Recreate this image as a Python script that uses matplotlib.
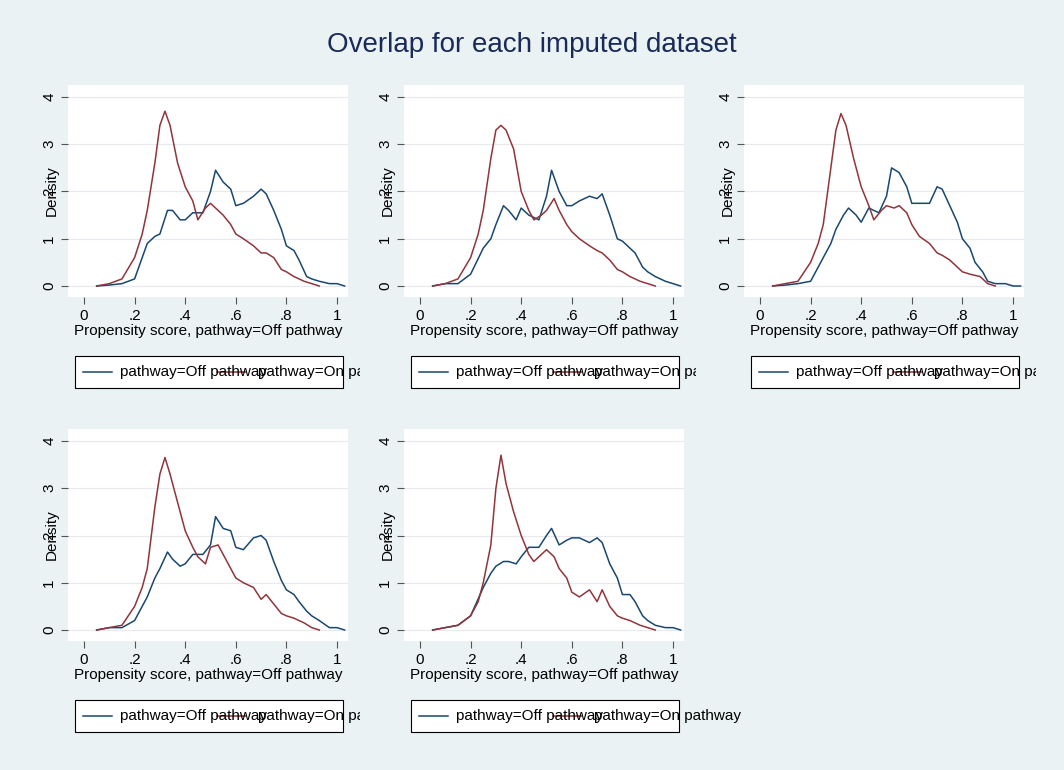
import numpy as np
import matplotlib.pyplot as plt
from matplotlib.patches import Rectangle

plt.rcParams['font.family'] = ['Liberation Sans', 'DejaVu Sans']

# density curves, one pair per imputed dataset
off_x = [0.05, 0.1, 0.15, 0.2, 0.25, 0.28, 0.3, 0.33, 0.35, 0.38, 0.4, 0.43, 0.47, 0.5, 0.52,
         0.55, 0.58, 0.6, 0.63, 0.67, 0.7, 0.72, 0.75, 0.78, 0.8, 0.83, 0.85, 0.88, 0.9, 0.93,
         0.97, 1.0, 1.03]
off_y = [
    [0, .02, .05, .15, .9, 1.05, 1.1, 1.6, 1.6, 1.4, 1.4, 1.55, 1.55, 2.0, 2.45, 2.2, 2.05, 1.7,
     1.75, 1.9, 2.05, 1.95, 1.6, 1.2, .85, .75, .55, .2, .15, .1, .05, .05, 0],
    [0, .05, .05, .25, .8, 1.0, 1.3, 1.7, 1.6, 1.4, 1.65, 1.5, 1.4, 1.9, 2.45, 2.0, 1.7, 1.7,
     1.8, 1.9, 1.85, 1.95, 1.5, 1.0, .95, .8, .7, .4, .3, .2, .1, .05, 0],
    [0, .02, .05, .1, .6, .9, 1.2, 1.5, 1.65, 1.5, 1.35, 1.65, 1.55, 1.9, 2.5, 2.4, 2.1, 1.75,
     1.75, 1.75, 2.1, 2.05, 1.7, 1.35, 1.0, .8, .5, .3, .1, .05, .05, 0, 0],
    [0, .05, .05, .2, .7, 1.1, 1.3, 1.65, 1.5, 1.35, 1.4, 1.6, 1.6, 1.8, 2.4, 2.15, 2.1, 1.75,
     1.7, 1.95, 2.0, 1.9, 1.45, 1.05, .85, .75, .6, .4, .3, .2, .05, .05, 0],
    [0, .05, .1, .3, .9, 1.2, 1.35, 1.45, 1.45, 1.4, 1.55, 1.75, 1.75, 2.0, 2.15, 1.8, 1.9, 1.95,
     1.95, 1.85, 1.95, 1.85, 1.4, 1.1, .75, .75, .6, .3, .2, .1, .05, .05, 0],
]
on_x = [0.05, 0.1, 0.15, 0.2, 0.23, 0.25, 0.28, 0.3, 0.32, 0.34, 0.37, 0.4, 0.43, 0.45, 0.48,
        0.5, 0.53, 0.55, 0.58, 0.6, 0.63, 0.67, 0.7, 0.72, 0.75, 0.78, 0.8, 0.83, 0.87, 0.9, 0.93]
on_y = [
    [0, .05, .15, .6, 1.1, 1.6, 2.6, 3.4, 3.7, 3.4, 2.6, 2.1, 1.8, 1.4, 1.65, 1.75, 1.6, 1.5,
     1.3, 1.1, 1.0, .85, .7, .7, .6, .35, .3, .2, .1, .05, 0],
    [0, .05, .15, .6, 1.1, 1.6, 2.7, 3.3, 3.4, 3.3, 2.9, 2.0, 1.6, 1.4, 1.5, 1.6, 1.85, 1.6,
     1.3, 1.15, 1.0, .85, .75, .7, .55, .35, .3, .2, .1, .05, 0],
    [0, .05, .1, .5, .9, 1.3, 2.5, 3.3, 3.65, 3.4, 2.7, 2.1, 1.7, 1.4, 1.6, 1.7, 1.65, 1.7,
     1.55, 1.3, 1.05, .9, .7, .65, .55, .4, .3, .25, .2, .05, 0],
    [0, .05, .1, .5, .9, 1.3, 2.6, 3.3, 3.65, 3.3, 2.7, 2.1, 1.75, 1.55, 1.4, 1.75, 1.8, 1.6,
     1.3, 1.1, 1.0, .9, .65, .75, .55, .35, .3, .25, .15, .05, 0],
    [0, .05, .1, .3, .6, 1.0, 1.8, 3.0, 3.7, 3.1, 2.5, 2.0, 1.6, 1.45, 1.6, 1.7, 1.55, 1.3,
     1.1, .8, .7, .85, .6, .85, .5, .3, .25, .2, .1, .05, 0],
]
tick_x = [0, .2, .4, .6, .8, 1]
tick_x_labels = ['0', '.2', '.4', '.6', '.8', '1']
tick_y = [0, 1, 2, 3, 4]

W, H = 1064, 770
blue = '#1a476f'
red = '#90353b'
fig = plt.figure(figsize=(W / 100, H / 100), dpi=100, facecolor='#eaf2f3')
fig.text(0.5, 1 - 45 / H, 'Overlap for each imputed dataset', ha='center', va='center',
         fontsize=20, color='#1a2b5a')

cols = [0, 336, 676]
rows = [0, 344]
for i in range(5):
    dx = cols[i % 3]
    dy = rows[i // 3]
    left, right, top, bottom = 68 + dx, 348 + dx, 85 + dy, 297 + dy
    ax = fig.add_axes([left / W, 1 - bottom / H, (right - left) / W, (bottom - top) / H])
    ax.set_facecolor('white')
    ax.plot(off_x, off_y[i], color=blue, lw=1.1)
    ax.plot(on_x, on_y[i], color=red, lw=1.1)
    # 0 -> px 84, 1 -> px 337 ; y 0 -> px 286, 4 -> px 97
    ax.set_xlim((left - 84 - dx) / 253, (right - 84 - dx) / 253)
    ax.set_ylim((286 + dy - bottom) / 47.25, (286 + dy - top) / 47.25)
    for s in ax.spines.values():
        s.set_visible(False)
    ax.set_xticks(tick_x)
    ax.set_xticklabels(tick_x_labels)
    ax.set_yticks(tick_y)
    ax.tick_params(labelsize=11, color='#555555', length=5)
    for lab in ax.get_yticklabels():
        lab.set_rotation(90)
        lab.set_va('center')
    ax.grid(axis='y', color='#e6eaee', lw=0.8)
    ax.set_xlabel('Propensity score, pathway=Off pathway', fontsize=11, labelpad=1)
    ax.set_ylabel('Density', fontsize=11, labelpad=-12)

    # overlapping legend, as in the reference
    clip = Rectangle(((dx + 60) / W, 0), (300 if i < 4 else 400) / W, 1,
                     transform=fig.transFigure, visible=False)
    fig.add_artist(clip)
    bx0, bx1, by0, by1 = 75 + dx, 343 + dx, 356 + dy, 388 + dy
    fig.add_artist(Rectangle((bx0 / W, 1 - by1 / H), (bx1 - bx0) / W, (by1 - by0) / H,
                             transform=fig.transFigure, facecolor='white', edgecolor='black', lw=0.8))
    ly = 1 - (by0 + by1) / 2 / H
    fig.add_artist(plt.Line2D([(dx + 83) / W, (dx + 112) / W], [ly, ly], color=blue, lw=1.1,
                              transform=fig.transFigure))
    fig.add_artist(plt.Line2D([(dx + 217) / W, (dx + 246) / W], [ly, ly], color=red, lw=1.1,
                              transform=fig.transFigure))
    t1 = fig.text((dx + 120) / W, ly, 'pathway=Off pathway', fontsize=11, va='center')
    t2 = fig.text((dx + 258) / W, ly, 'pathway=On pathway', fontsize=11, va='center')
    for t in (t1, t2):
        t.set_clip_path(clip)

fig.savefig('out.png', dpi=100, facecolor=fig.get_facecolor())
